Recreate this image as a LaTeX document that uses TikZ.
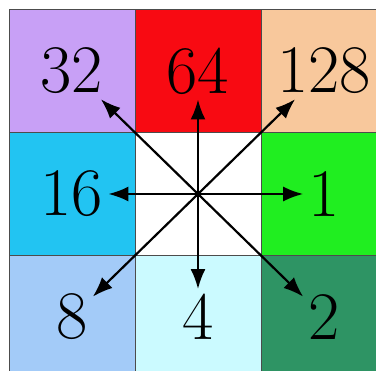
\documentclass[tikz,border=0pt]{standalone}
\usetikzlibrary{positioning, arrows.meta}

\definecolor{cpurple}{HTML}{C8A0F6}
\definecolor{cred}{HTML}{F80A12}
\definecolor{cpeach}{HTML}{F8C89C}
\definecolor{ccyan}{HTML}{22C4F2}
\definecolor{cgreen}{HTML}{20EE20}
\definecolor{cblue}{HTML}{A3CBF8}
\definecolor{caqua}{HTML}{CBFAFF}
\definecolor{cdgreen}{HTML}{2E9464}

\begin{document}
\begin{tikzpicture}[
  x=1pt, y=-1pt,
  node distance=0pt and 0pt,
  cell/.style={draw=black!70, line width=0.6pt, minimum width=126pt, minimum height=123pt, outer sep=0pt, inner sep=0pt},
  num/.style={font=\fontsize{68}{70}\selectfont, inner sep=5pt},
  ray/.style={-{Latex[length=20pt, width=15pt]}, line width=2.2pt}
]
\useasboundingbox (0,0) rectangle (376,371);
\clip (0,0) rectangle (376,371);
% cells
\node[cell, fill=cpurple] (b32) at (72,71) {};
\node[cell, fill=cred, right=of b32] (b64) {};
\node[cell, fill=cpeach, right=of b64] (b128) {};
\node[cell, fill=ccyan, below=of b32] (b16) {};
\node[cell, fill=white, right=of b16] (mid) {};
\node[cell, fill=cgreen, right=of mid] (b1) {};
\node[cell, fill=cblue, below=of b16] (b8) {};
\node[cell, fill=caqua, right=of b8] (b4) {};
\node[cell, fill=cdgreen, right=of b4] (b2) {};
% numbers
\node[num] (n32) at (b32) {32};
\node[num] (n64) at (b64) {64};
\node[num] (n128) at (b128) {128};
\node[num] (n16) at (b16) {16};
\node[num] (n1) at (b1) {1};
\node[num] (n8) at (b8) {8};
\node[num] (n4) at (b4) {4};
\node[num] (n2) at (b2) {2};
% rays
\foreach \t in {n32, n64, n128, n16, n1, n8, n4, n2}
  \draw[ray] (mid.center) -- (\t);
\end{tikzpicture}
\end{document}
